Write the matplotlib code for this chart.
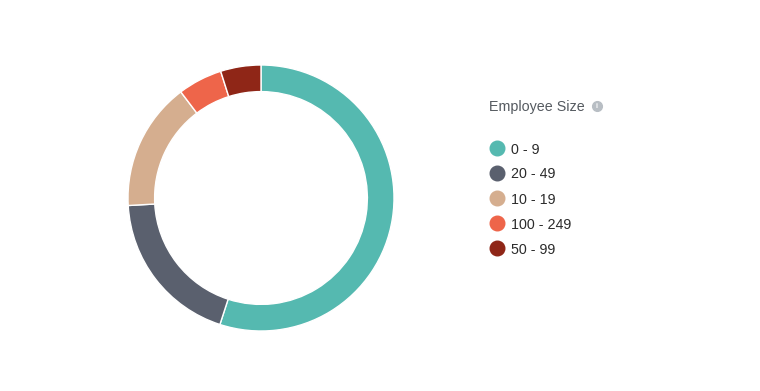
import matplotlib.pyplot as plt
from matplotlib.lines import Line2D

plt.rcParams["font.family"] = ["Liberation Sans", "DejaVu Sans"]

# Employee size distribution
labels = ["0 - 9", "20 - 49", "10 - 19", "100 - 249", "50 - 99"]
shares = [55.0, 19.1, 15.6, 5.4, 4.9]
colors = ["#55b9b0", "#5a606e", "#d5ae8f", "#ee654a", "#8f2617"]

W, H = 760, 391
fig = plt.figure(figsize=(W / 100, H / 100), dpi=100)

# donut centred at (261, 198) px, outer radius 133 px
cx, cy, r = 261, 198, 133
pad = 4
ax = fig.add_axes([(cx - r - pad) / W, (H - cy - r - pad) / H,
                   (2 * r + 2 * pad) / W, (2 * r + 2 * pad) / H])
ax.pie(shares, colors=colors, startangle=90, counterclock=False,
       radius=1.0, wedgeprops=dict(width=0.2, edgecolor="white", linewidth=1))
lim = 1 + pad / r
ax.set_xlim(-lim, lim)
ax.set_ylim(-lim, lim)
ax.set_aspect("equal")
ax.axis("off")

# legend title with info icon
fig.text(489 / W, 1 - 107.5 / H, "Employee Size", fontsize=10.3, color="#555a60",
         va="center", ha="left")
fig.add_artist(Line2D([597 / W], [1 - 106 / H], marker="o", markersize=7,
                      color="#b8bec4", transform=fig.transFigure))
fig.text(597 / W, 1 - 106.5 / H, "i", fontsize=5, color="white",
         ha="center", va="center", fontweight="bold")

# legend entries
for i, (lab, col) in enumerate(zip(labels, colors)):
    y = 1 - (148 + 25 * i) / H
    fig.add_artist(Line2D([497 / W], [y], marker="o", markersize=10.5,
                          color=col, transform=fig.transFigure))
    fig.text(511 / W, y - 1.5 / H, lab, fontsize=10.3, color="#2b2b2b",
             va="center", ha="left")

fig.savefig("out.png", dpi=100, facecolor="white")
